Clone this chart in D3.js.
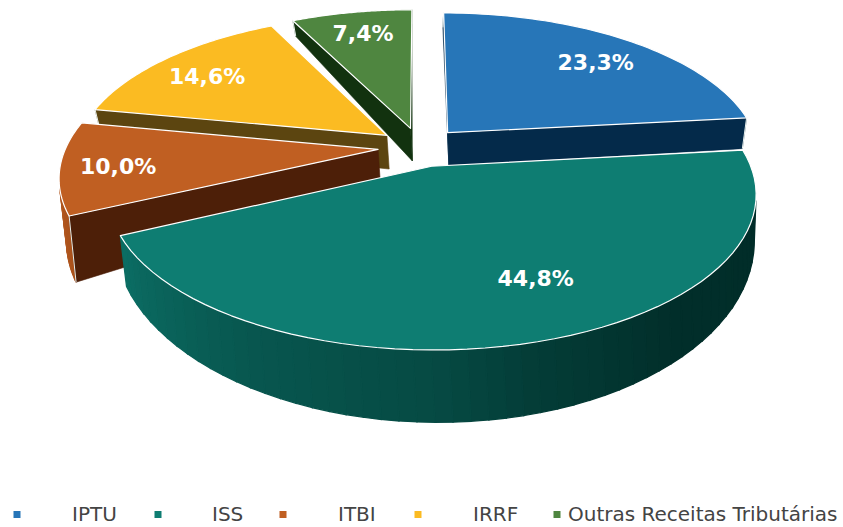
<!DOCTYPE html>
<html>
<head>
<meta charset="utf-8">
<script src="https://cdn.jsdelivr.net/npm/d3@7"></script>
<style>
  html, body { margin: 0; padding: 0; background: #fff; }
  svg { display: block; }
</style>
</head>
<body>
<div id="chart"></div>
<script>
var categories = ["IPTU", "ISS", "ITBI", "IRRF", "Outras Receitas Tributárias"];
var shares = [23.3, 44.8, 10.0, 14.6, 7.4];
var shareLabels = ["23,3%", "44,8%", "10,0%", "14,6%", "7,4%"];

var topColors = ["#2776b8", "#0e7d72", "#c05f22", "#fbbb22", "#4f8640"];
var darkColors = ["#042a4a", "#012c28", "#4d1f08", "#5c4510", "#12320f"];

var width = 843, height = 527;

// perspective of the pie: top face and bottom face are two planes
var topPlane = {cx: 420, cy: 147, a: 312, b: 144.8, k: 0.1715, skew: 0};
var botPlane = {cx: 421.9, cy: 182.6, a: 307, b: 169, k: 0.18, skew: -1.94};
var explode = 0.135;
var labelRadius = 0.78;

function project(plane, u, v) {
    var d = 1 + plane.k * v;
    return [plane.cx + plane.skew * v + plane.a * u / d, plane.cy - plane.b * v / d];
}

var svg = d3.select("#chart")
    .append("svg")
    .attr("width", width)
    .attr("height", height);

var color = d3.scaleOrdinal().domain(categories).range(topColors);
var dark = d3.scaleOrdinal().domain(categories).range(darkColors);

// how lit the outer wall is, by angle round the pie (degrees from 12 o'clock)
var wallLight = d3.scaleLinear()
    .domain([90, 140, 165, 180, 210, 245, 262])
    .range([0, 0.03, 0.2, 0.37, 0.53, 0.81, 0.9])
    .clamp(true);

var pie = d3.pie().sort(null).value(function(d, i) { return shares[i]; });
var slices = pie(categories);

var line = d3.line();
function polyPath(pts) { return line(pts) + "Z"; }

// back to front
var drawOrder = ["IPTU", "Outras Receitas Tributárias", "IRRF", "ITBI", "ISS"];

// the ITBI slice hangs lower on its far left side than the plane says
var extraDrop = {"ITBI": 18};

var plot = svg.append("g").style("filter", "blur(0.4px)");

drawOrder.forEach(function(name) {
    var s = slices[categories.indexOf(name)];
    var mid = (s.startAngle + s.endAngle) / 2;
    var ou = explode * Math.sin(mid), ov = explode * Math.cos(mid);
    var steps = d3.range(0, 61).map(function(i) {
        return s.startAngle + (s.endAngle - s.startAngle) * i / 60;
    });

    function at(plane, u, v) {
        var p = project(plane, u, v);
        if (plane === botPlane && extraDrop[name]) p[1] += extraDrop[name] * Math.max(0, -u);
        return p;
    }
    function pt(plane, a) { return at(plane, ou + Math.sin(a), ov + Math.cos(a)); }
    var apexTop = at(topPlane, ou, ov), apexBot = at(botPlane, ou, ov);

    var g = plot.append("g").attr("class", "slice");

    function face(pts, fill, sw) {
        // skip the faces that look away from us
        if (d3.polygonArea(pts) <= 0) return false;
        g.append("path")
            .attr("d", polyPath(pts))
            .style("fill", fill)
            .style("stroke", fill)
            .style("stroke-width", sw);
        return true;
    }

    function corner(a) {
        g.append("path")
            .attr("d", line([pt(topPlane, a), pt(botPlane, a)]))
            .style("stroke", "#e8efec")
            .style("stroke-width", 1)
            .style("fill", "none");
    }

    // outer wall in small strips
    steps.slice(0, -1).forEach(function(a, i) {
        var b = steps[i + 1];
        var deg = (a + b) / 2 * 180 / Math.PI;
        face([pt(topPlane, a), pt(topPlane, b), pt(botPlane, b), pt(botPlane, a)],
            d3.interpolateRgb(dark(name), color(name))(wallLight(deg)), 1.3);
    });

    // the two cut faces
    if (face([pt(topPlane, s.startAngle), pt(botPlane, s.startAngle), apexBot, apexTop], dark(name), 0.6))
        corner(s.startAngle);
    if (face([apexTop, apexBot, pt(botPlane, s.endAngle), pt(topPlane, s.endAngle)], dark(name), 0.6))
        corner(s.endAngle);

    // top face
    var topPts = [apexTop].concat(steps.map(function(a) { return pt(topPlane, a); }));
    g.append("path")
        .attr("d", polyPath(topPts))
        .style("fill", color(name))
        .style("stroke", "#fff")
        .style("stroke-width", 1.2)
        .style("stroke-linejoin", "round");
});

// labels
var labelShift = {
    "IPTU": [5, 3],
    "ISS": [25, -19],
    "ITBI": [-13, 2],
    "IRRF": [-5, 2],
    "Outras Receitas Tributárias": [0, -2]
};
svg.append("g").selectAll("text")
    .data(slices)
    .join("text")
    .attr("transform", function(d) {
        var mid = (d.startAngle + d.endAngle) / 2;
        var r = explode + labelRadius;
        var p = project(topPlane, r * Math.sin(mid), r * Math.cos(mid));
        var sh = labelShift[d.data] || [0, 0];
        return "translate(" + (p[0] + sh[0]) + "," + (p[1] + sh[1]) + ")";
    })
    .attr("dy", "0.36em")
    .attr("text-anchor", "middle")
    .style("font-family", "'DejaVu Sans', sans-serif")
    .style("font-weight", "bold")
    .style("font-size", "22px")
    .style("fill", "#fff")
    .text(function(d, i) { return shareLabels[i]; });

// legend
var legendMarkX = [17, 158, 283, 418, 557];
var legendTextX = [72, 212, 338, 473, 568];
var legend = svg.append("g").selectAll("g")
    .data(categories)
    .join("g");

legend.append("rect")
    .attr("x", function(d, i) { return legendMarkX[i] - 3.5; })
    .attr("y", 511)
    .attr("width", 7)
    .attr("height", 7)
    .style("fill", function(d) { return color(d); });

legend.append("text")
    .attr("x", function(d, i) { return legendTextX[i]; })
    .attr("y", 521)
    .style("font-family", "'DejaVu Sans', sans-serif")
    .style("font-size", "20px")
    .style("fill", "#444")
    .text(function(d) { return d; });
</script>
</body>
</html>
